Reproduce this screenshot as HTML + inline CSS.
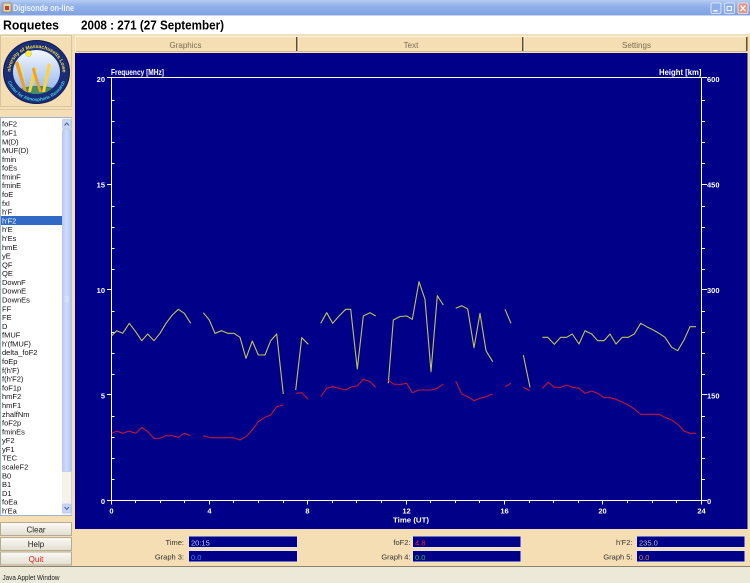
<!DOCTYPE html>
<html><head><meta charset="utf-8">
<style>
html,body{margin:0;padding:0;width:750px;height:583px;overflow:hidden;background:#f5deb3}
svg{position:absolute;left:0;top:0;display:block}
text{font-family:"Liberation Sans",Arial,sans-serif}
</style></head><body>
<svg width="750" height="583" viewBox="0 0 750 583" xmlns="http://www.w3.org/2000/svg">
<defs>
<linearGradient id="tb" x1="0" y1="0" x2="0" y2="1">
<stop offset="0" stop-color="#b6cdf3"/><stop offset="0.35" stop-color="#93b2ea"/><stop offset="1" stop-color="#7e9fe2"/>
</linearGradient>
<linearGradient id="btn" x1="0" y1="0" x2="0" y2="1"><stop offset="0" stop-color="#fbfaf6"/><stop offset="1" stop-color="#e2ded0"/></linearGradient>
<linearGradient id="sky" x1="0" y1="0" x2="0" y2="1"><stop offset="0" stop-color="#f4f8ff"/><stop offset="1" stop-color="#8fb4ec"/></linearGradient>
<linearGradient id="thumb" x1="0" y1="0" x2="1" y2="0"><stop offset="0" stop-color="#b8cdf8"/><stop offset="0.5" stop-color="#cddcfc"/><stop offset="1" stop-color="#b4c8f4"/></linearGradient>
<clipPath id="inner"><ellipse cx="36.5" cy="72" rx="23.5" ry="22"/></clipPath>
<path id="arcTop" d="M 10.5,72 A 26,24 0 0 1 62.5,72"/>
<path id="arcBot" d="M 6.5,73 A 30,28 0 0 0 66.5,73"/>
</defs>

<!-- background -->
<rect x="0" y="0" width="750" height="583" fill="#f5deb3"/>

<!-- title bar -->
<rect x="0" y="0" width="750" height="16" fill="url(#tb)"/>
<rect x="0" y="15" width="750" height="1" fill="#c9d6ef"/>
<rect x="3" y="3" width="8" height="9" fill="#e8d8a8" stroke="#8a6a3a" stroke-width="0.6"/>
<rect x="5" y="6" width="4" height="4" fill="#c04030"/>
<text x="13" y="11" font-size="9.5" font-weight="bold" fill="#eef3fc" textLength="61" lengthAdjust="spacingAndGlyphs">Digisonde on-line</text>
<rect x="711" y="3" width="10" height="10.5" rx="1.5" fill="#8eaeea" stroke="#e8f0fc" stroke-width="0.8"/>
<rect x="713.5" y="10" width="4" height="1.5" fill="#fff"/>
<rect x="724.5" y="3" width="10" height="10.5" rx="1.5" fill="#8eaeea" stroke="#e8f0fc" stroke-width="0.8"/>
<rect x="727" y="6.5" width="4.5" height="4" fill="none" stroke="#fff" stroke-width="0.9"/>
<rect x="738" y="3" width="10" height="10.5" rx="1.5" fill="#dc9a8c" stroke="#f8e8e4" stroke-width="0.8"/>
<path d="M740.5,5.5 L745.5,11 M745.5,5.5 L740.5,11" stroke="#fff" stroke-width="1.3"/>

<!-- header -->
<rect x="0" y="16" width="750" height="18" fill="#ffffff"/>
<rect x="0" y="34" width="750" height="1" fill="#eadfc8"/>
<text x="3" y="29.5" font-size="12.5" font-weight="bold" fill="#000" textLength="56" lengthAdjust="spacingAndGlyphs">Roquetes</text>
<text x="81" y="29.5" font-size="12.5" font-weight="bold" fill="#000" textLength="143" lengthAdjust="spacingAndGlyphs">2008 : 271 (27 September)</text>

<!-- tabs -->
<rect x="75" y="36" width="672" height="16" fill="#f5deb3"/>
<rect x="75" y="36" width="672" height="1" fill="#fff2d8"/>
<rect x="75" y="51" width="672" height="1" fill="#d0bb90"/>
<rect x="75" y="36" width="1" height="16" fill="#fff2d8"/>
<rect x="296" y="37" width="1.5" height="14" fill="#5e4e32"/>
<rect x="297.5" y="37" width="1" height="14" fill="#fff2d8"/>
<rect x="522" y="37" width="1.5" height="14" fill="#5e4e32"/>
<rect x="523.5" y="37" width="1" height="14" fill="#fff2d8"/>
<rect x="746" y="37" width="1.5" height="14" fill="#5e4e32"/>
<text x="185.5" y="48" font-size="8" fill="#7a6c54" text-anchor="middle">Graphics</text>
<text x="411" y="48" font-size="8" fill="#7a6c54" text-anchor="middle">Text</text>
<text x="636.5" y="48" font-size="8" fill="#7a6c54" text-anchor="middle">Settings</text>

<!-- logo -->
<rect x="0.5" y="35.5" width="71" height="71" fill="#f5deb3" stroke="#d9c59e"/>
<line x1="1" y1="36.5" x2="71" y2="36.5" stroke="#fff3dc"/>
<ellipse cx="36.5" cy="72" rx="33" ry="31.5" fill="#1c2d78" stroke="#0e1a52" stroke-width="1"/>
<ellipse cx="36.5" cy="72" rx="23.5" ry="22" fill="url(#sky)"/>
<g clip-path="url(#inner)">
<ellipse cx="38" cy="101" rx="30" ry="15" fill="#2d7d5c"/>
<ellipse cx="36" cy="93" rx="22" ry="6" fill="#4f9a6e" opacity="0.7"/>
<polygon points="18,61 27,92 24,92 15,63" fill="#f0a020"/>
<polygon points="28,92 34,67 37,69 31,92" fill="#ffd23c"/>
<polygon points="34,67 42,92 39,92 32,69" fill="#f0a020"/>
<polygon points="42,92 48,63 51,65 45,92" fill="#ffd23c"/>
<polygon points="20,63 26,87 22,65" fill="#ffe060"/>
</g>
<circle cx="28.5" cy="53.5" r="3" fill="#fff040" stroke="#e0b020" stroke-width="0.5"/>
<text font-size="5" font-weight="bold" fill="#f0e040"><textPath href="#arcTop" startOffset="50%" text-anchor="middle">University of Massachusetts Lowell</textPath></text>
<text font-size="4.6" font-weight="bold" fill="#40d0e0"><textPath href="#arcBot" startOffset="50%" text-anchor="middle">Center for Atmospheric Research</textPath></text>

<!-- list -->
<line x1="0" y1="109.5" x2="72" y2="109.5" stroke="#dccaa6"/>
<rect x="0.5" y="117.5" width="71" height="398" fill="#ffffff" stroke="#9fb4cf"/>
<rect x="1" y="216" width="61" height="9" fill="#316ac5"/>
<g font-size="7.5" fill="#111">
<text x="2" y="126.7">foF2</text>
<text x="2" y="135.5">foF1</text>
<text x="2" y="144.3">M(D)</text>
<text x="2" y="153.1">MUF(D)</text>
<text x="2" y="161.9">fmin</text>
<text x="2" y="170.7">foEs</text>
<text x="2" y="179.4">fminF</text>
<text x="2" y="188.2">fminE</text>
<text x="2" y="197.0">foE</text>
<text x="2" y="205.8">fxI</text>
<text x="2" y="214.6">h'F</text>
<text x="2" y="223.4" fill="#ffffff">h'F2</text>
<text x="2" y="232.2">h'E</text>
<text x="2" y="241.0">h'Es</text>
<text x="2" y="249.8">hmE</text>
<text x="2" y="258.6">yE</text>
<text x="2" y="267.3">QF</text>
<text x="2" y="276.1">QE</text>
<text x="2" y="284.9">DownF</text>
<text x="2" y="293.7">DownE</text>
<text x="2" y="302.5">DownEs</text>
<text x="2" y="311.3">FF</text>
<text x="2" y="320.1">FE</text>
<text x="2" y="328.9">D</text>
<text x="2" y="337.7">fMUF</text>
<text x="2" y="346.5">h'(fMUF)</text>
<text x="2" y="355.2">delta_foF2</text>
<text x="2" y="364.0">foEp</text>
<text x="2" y="372.8">f(h'F)</text>
<text x="2" y="381.6">f(h'F2)</text>
<text x="2" y="390.4">foF1p</text>
<text x="2" y="399.2">hmF2</text>
<text x="2" y="408.0">hmF1</text>
<text x="2" y="416.8">zhalfNm</text>
<text x="2" y="425.6">foF2p</text>
<text x="2" y="434.4">fminEs</text>
<text x="2" y="443.1">yF2</text>
<text x="2" y="451.9">yF1</text>
<text x="2" y="460.7">TEC</text>
<text x="2" y="469.5">scaleF2</text>
<text x="2" y="478.3">B0</text>
<text x="2" y="487.1">B1</text>
<text x="2" y="495.9">D1</text>
<text x="2" y="504.7">foEa</text>
<text x="2" y="513.5">h'Ea</text>
</g>
<!-- scrollbar -->
<rect x="62" y="118" width="9.5" height="397" fill="#f4f2ea"/>
<rect x="62.5" y="119.5" width="8.5" height="9" rx="1" fill="#c6d7fa" stroke="#a8bde8" stroke-width="0.6"/>
<path d="M64.5,125.5 L66.75,123 L69,125.5" fill="none" stroke="#4d6185" stroke-width="1"/>
<rect x="62.5" y="129.5" width="8.5" height="342" rx="1" fill="url(#thumb)" stroke="#a8bde8" stroke-width="0.6"/>
<path d="M64.5,297 h4.5 M64.5,299 h4.5 M64.5,301 h4.5" stroke="#e8f0ff" stroke-width="0.8"/>
<rect x="62.5" y="504" width="8.5" height="9" rx="1" fill="#c6d7fa" stroke="#a8bde8" stroke-width="0.6"/>
<path d="M64.5,507 L66.75,509.5 L69,507" fill="none" stroke="#4d6185" stroke-width="1"/>

<!-- buttons -->
<rect x="0.5" y="522.5" width="71" height="13" fill="url(#btn)" stroke="#b3ab94"/>
<text x="36" y="532.5" font-size="8" fill="#222" text-anchor="middle">Clear</text>
<rect x="0.5" y="537.5" width="71" height="13" fill="url(#btn)" stroke="#b3ab94"/>
<text x="36" y="547.2" font-size="8" fill="#222" text-anchor="middle">Help</text>
<rect x="0.5" y="552" width="71" height="13" fill="url(#btn)" stroke="#b3ab94"/>
<text x="36" y="561.8" font-size="8" fill="#d02020" text-anchor="middle">Quit</text>

<!-- chart panel -->
<rect x="75" y="53" width="672.5" height="476" fill="#000088"/>

<g shape-rendering="crispEdges" stroke="#ffffff" stroke-width="1" fill="none">
<path d="M111.5,77.5 H701.5 M111.5,77.5 V500.5 M701.5,77.5 V500.5 M111.5,500.5 H701.5"/>
<path d="M111.5,479.5 h3 M111.5,458.5 h3 M111.5,437.5 h3 M111.5,416.5 h3 M111.5,374.5 h3 M111.5,353.5 h3 M111.5,332.5 h3 M111.5,311.5 h3 M111.5,269.5 h3 M111.5,248.5 h3 M111.5,227.5 h3 M111.5,206.5 h3 M111.5,163.5 h3 M111.5,142.5 h3 M111.5,121.5 h3 M111.5,100.5 h3"/>
<path d="M107,500.5 h4.5 M107,394.5 h4.5 M107,289.5 h4.5 M107,184.5 h4.5 M107,77.5 h4.5"/>
<path d="M702,479.5 h3 M702,458.5 h3 M702,437.5 h3 M702,416.5 h3 M702,374.5 h3 M702,353.5 h3 M702,332.5 h3 M702,311.5 h3 M702,269.5 h3 M702,248.5 h3 M702,227.5 h3 M702,206.5 h3 M702,163.5 h3 M702,142.5 h3 M702,121.5 h3 M702,100.5 h3"/>
<path d="M702,500.5 h5 M702,394.5 h5 M702,289.5 h5 M702,184.5 h5 M702,77.5 h5"/>
<path d="M135.5,500.5 v2.5 M160.5,500.5 v2.5 M184.5,500.5 v2.5 M233.5,500.5 v2.5 M258.5,500.5 v2.5 M283.5,500.5 v2.5 M332.5,500.5 v2.5 M356.5,500.5 v2.5 M381.5,500.5 v2.5 M430.5,500.5 v2.5 M455.5,500.5 v2.5 M479.5,500.5 v2.5 M529.5,500.5 v2.5 M553.5,500.5 v2.5 M578.5,500.5 v2.5 M627.5,500.5 v2.5 M652.5,500.5 v2.5 M676.5,500.5 v2.5"/>
<path d="M111.5,500.5 v4 M209.5,500.5 v4 M307.5,500.5 v4 M406.5,500.5 v4 M504.5,500.5 v4 M602.5,500.5 v4 M701.5,500.5 v4"/>
</g>

<g font-size="7.5" font-weight="bold" fill="#ffffff">
<text x="105" y="82" text-anchor="end">20</text>
<text x="105" y="187.5" text-anchor="end">15</text>
<text x="105" y="293" text-anchor="end">10</text>
<text x="105" y="398.5" text-anchor="end">5</text>
<text x="105" y="504" text-anchor="end">0</text>
<text x="707" y="82">600</text>
<text x="707" y="187.5">450</text>
<text x="707" y="293">300</text>
<text x="707" y="398.5">150</text>
<text x="707" y="504">0</text>
<text x="111.5" y="513.5" text-anchor="middle">0</text>
<text x="209.5" y="513.5" text-anchor="middle">4</text>
<text x="307.5" y="513.5" text-anchor="middle">8</text>
<text x="406.5" y="513.5" text-anchor="middle">12</text>
<text x="504.5" y="513.5" text-anchor="middle">16</text>
<text x="602.5" y="513.5" text-anchor="middle">20</text>
<text x="701.5" y="513.5" text-anchor="middle">24</text>
<text x="393" y="522.5" textLength="36" lengthAdjust="spacingAndGlyphs">Time (UT)</text>
<text x="111" y="75" font-size="8.5" textLength="53" lengthAdjust="spacingAndGlyphs">Frequency [MHz]</text>
<text x="659" y="75" font-size="8.5" textLength="42.5" lengthAdjust="spacingAndGlyphs">Height [km]</text>
</g>

<!-- h'F2 (yellow) -->
<g fill="none" stroke="#c4c455" stroke-width="1.1" stroke-linejoin="round">
<polyline points="111.7,335.7 116.7,330.7 122.7,333.3 129.3,323.3 135.7,331.7 141.7,340.7 147.7,334 154,340.7 160,333.3 166,323.3 172.3,315 178.3,309.3 184.3,313.3 190.7,323.3"/>
<polyline points="203.3,312.7 209.3,320 215,333.3 221.7,330.7 227.7,333.3 234,333.3 240,337.3 246,358.3 252.3,341 258.3,355 265,355 270.7,340.7 276.7,334 283.3,394"/>
<polyline points="295.7,390 301.7,337.7 308.3,344.3"/>
<polyline points="320.7,323.3 326.7,312.7 332.7,323.3 339,316 345.7,309.3 350.7,309.3 357.3,369 363.3,316 370,312.7 375.7,316"/>
<polyline points="388.3,383.3 393.3,320 400,316.5 406.7,316 412.3,319.3 419,281.7 425,299.3 431,371.7 437.3,295.7 443.3,305"/>
<polyline points="455.7,308.3 461.7,305.7 467.7,309 474,347.7 480,313.3 486,350.7 492.7,361.7"/>
<polyline points="505,309.3 511,323.3"/>
<polyline points="523.3,355 530,387.3"/>
<polyline points="542.3,337.3 547.7,337.3 554.3,344.3 560.7,337.3 566.7,337.3 572.3,334 579,344 585,330.7 591.7,334 597.7,340.7 604,340.7 610,334 616,344 622.3,337.3 628.3,337.3 634.3,334 640.7,323.3 646.7,326.7 653.3,330 659,333.3 665,337.3 671.7,347.3 677.7,350.7 684,340 690,326.7 696,326.7"/>
</g>

<!-- foF2 (red) -->
<g fill="none" stroke="#c4143a" stroke-width="1.1" stroke-linejoin="round">
<polyline points="111.7,433.3 116.7,431 122.7,433.3 129.3,431 135.7,433.3 141.7,427.3 147.7,431.7 154,438.3 160,438.3 166,435.7 171.7,435.7 178.3,437.3 184.3,433.3 190.7,435.7"/>
<polyline points="203.3,435.7 210,437.7 233.3,437.7 240,440 246,436.7 252.3,430 258.3,421.7 265,417.3 270.7,415 276.7,406.7 283.3,405"/>
<polyline points="295.7,393.3 301.7,392.7 308.3,399.3"/>
<polyline points="320.7,396.7 326.7,388.3 332.7,386.7 339,388.3 345.7,390 351.7,386.7 357.3,386 363.3,379.3 370,381.7 375.7,387.3"/>
<polyline points="388.3,380 393.3,384 400,384.5 406.7,383.3 412.3,392.7 419,390 425,390 431,390 437.3,388.3 443.3,384"/>
<polyline points="455.7,381 461.7,394 467.7,396.7 474,400.7 480,398.3 486,396.7 492.7,394"/>
<polyline points="505,386.7 511,383.3"/>
<polyline points="523.3,387.3 530,390.7"/>
<polyline points="542.3,388.3 548.3,382.3 554.3,387.3 560.7,387.3 566.7,385 572.3,387.3 579,388.3 585,393.3 591.7,391 597.7,393.3 604,397.7 610,397.7 616,399.3 622.3,402.3 628.3,405 634.3,409 640.7,414.3 646.7,414.3 653.3,414.3 659,414.3 665,417.3 671.7,420 677.7,424.3 684,431 690,433.3 696,433.3"/>
</g>

<!-- bottom info panel -->
<g font-size="7.5" fill="#333">
<text x="184" y="545" text-anchor="end">Time:</text>
<text x="184" y="559.6" text-anchor="end">Graph 3:</text>
<text x="410.5" y="545" text-anchor="end">foF2:</text>
<text x="410.5" y="559.6" text-anchor="end">Graph 4:</text>
<text x="632.5" y="545" text-anchor="end">h'F2:</text>
<text x="632.5" y="559.6" text-anchor="end">Graph 5:</text>
</g>
<g fill="#000088" stroke="#e4e4e4" stroke-width="1">
<rect x="188.5" y="536" width="109" height="11.5"/>
<rect x="188.5" y="550.5" width="109" height="11.5"/>
<rect x="412.5" y="536" width="108.5" height="11.5"/>
<rect x="412.5" y="550.5" width="108.5" height="11.5"/>
<rect x="636.5" y="536" width="108.5" height="11.5"/>
<rect x="636.5" y="550.5" width="108.5" height="11.5"/>
</g>
<g font-size="7.5">
<text x="191" y="545.3" fill="#c8ccf0">20:15</text>
<text x="191" y="559.8" fill="#3a8cff">0.0</text>
<text x="415" y="545.3" fill="#ff2020">4.8</text>
<text x="415" y="559.8" fill="#22c040">0.0</text>
<text x="639" y="545.3" fill="#c0c0a8">235.0</text>
<text x="639" y="559.8" fill="#c88a48">0.0</text>
</g>

<!-- status bar -->
<rect x="0" y="566" width="750" height="1" fill="#8c8472"/>
<rect x="0" y="567" width="750" height="16" fill="#ece9d8"/>
<text x="2.5" y="580" font-size="7.5" fill="#222" textLength="57" lengthAdjust="spacingAndGlyphs">Java Applet Window</text>
</svg>
</body></html>
